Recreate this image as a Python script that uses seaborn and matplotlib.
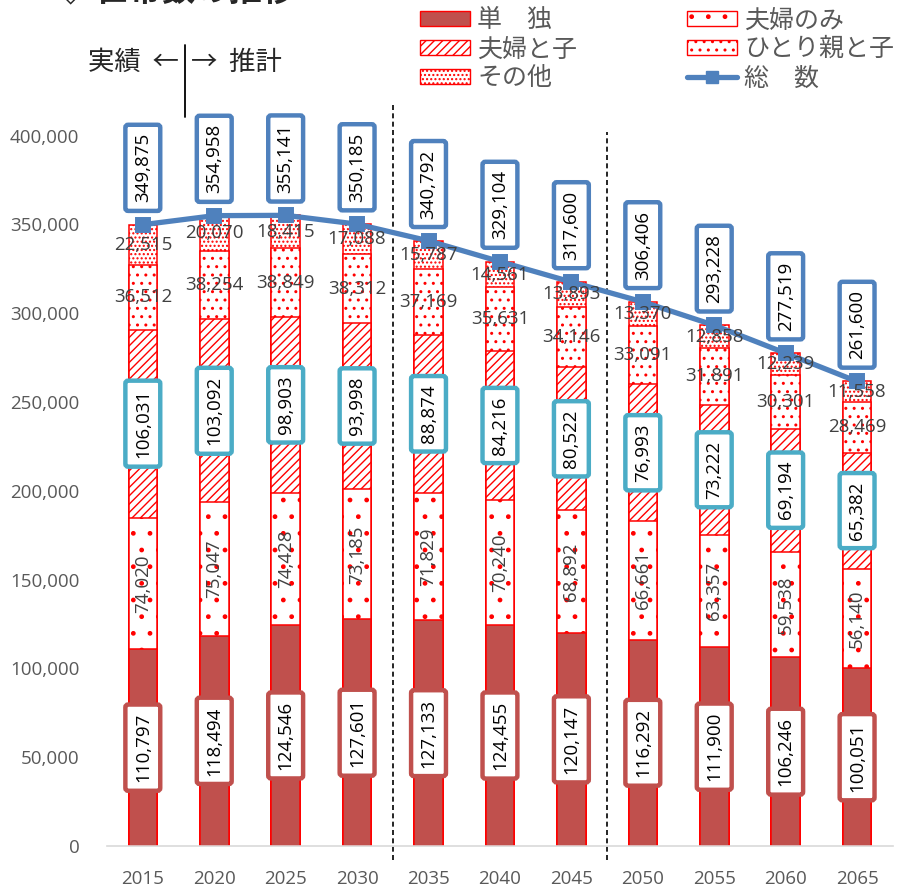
"""
世帯数の推移 — stacked bars by household type with total line.
"""

import pandas as pd
import matplotlib
matplotlib.use('Agg')
import matplotlib.pyplot as plt
from matplotlib.patches import Patch
from matplotlib.lines import Line2D
import seaborn as sns


YEARS = ['2015', '2020', '2025', '2030', '2035', '2040', '2045',
         '2050', '2055', '2060', '2065']
TANDOKU = [110797, 118494, 124546, 127601, 127133, 124455, 120147,
           116292, 111900, 106246, 100051]
FUFU_NOMI = [74020, 75047, 74428, 73185, 71829, 70240, 68892,
             66661, 63357, 59538, 56140]
FUFU_KO = [106031, 103092, 98903, 93998, 88874, 84216, 80522,
           76993, 73222, 69194, 65382]
HITORIOYA = [36512, 38254, 38849, 38312, 37169, 35631, 34146,
             33091, 31891, 30301, 28469]
SONOTA = [22515, 20070, 18415, 17088, 15787, 14561, 13893,
          13370, 12858, 12239, 11558]
TOTAL = [349875, 354958, 355141, 350185, 340792, 329104, 317600,
         306406, 293228, 277519, 261600]

LABELS = ['単　独', '夫婦のみ', '夫婦と子', 'ひとり親と子', 'その他']
TOTAL_LABEL = '総　数'
Y_TICKS = [0, 50000, 100000, 150000, 200000, 250000, 300000, 350000, 400000]

BAR_RED = '#C0504D'
EDGE_RED = '#FF0000'
BLUE = '#4F81BD'
TEAL = '#4BACC6'
TXT = '#404040'
NUM_FONT = ['Open Sans', 'Noto Sans CJK JP', 'DejaVu Sans']

# per segment: face, hatch, label rotation, label box edge (None = no box)
STYLES = [
    (BAR_RED, None, 90, BAR_RED),
    ('white', '.', 90, None),
    ('white', '////', 90, TEAL),
    ('white', '..', 0, None),
    ('white', '....', 0, None),
]
BOX = 'round,pad=0.45,rounding_size=0.15'


def main():
    sns.set_style('white')
    plt.rcParams['font.family'] = ['Noto Sans CJK JP', 'DejaVu Sans']
    plt.rcParams['hatch.color'] = EDGE_RED
    plt.rcParams['hatch.linewidth'] = 1.0

    df = pd.DataFrame({'year': YEARS, 'total': TOTAL})
    series = [TANDOKU, FUFU_NOMI, FUFU_KO, HITORIOYA, SONOTA]
    for name, vals in zip(LABELS, series):
        df[name] = vals
    cum = df[LABELS].cumsum(axis=1)

    fig = plt.figure(figsize=(9, 8.86), dpi=100)
    ax = fig.add_axes([0.119, 0.0451, 0.873, 0.902])

    # overlapping cumulative bars, tallest first so each lower layer covers it
    for k in range(len(LABELS) - 1, -1, -1):
        face, hatch, _, _ = STYLES[k]
        sns.barplot(x=df['year'], y=cum[LABELS[k]], ax=ax, color=face,
                    width=0.4, edgecolor=EDGE_RED, linewidth=1.1,
                    hatch=hatch, saturation=1, zorder=2)

    sns.pointplot(x=df['year'], y=df['total'], ax=ax, color=BLUE,
                  markers='s', markersize=8, linewidth=3.8, errorbar=None)
    for coll in ax.collections:
        coll.set_zorder(4)
    for ln in ax.lines:
        ln.set_zorder(4)

    # segment labels
    for k, name in enumerate(LABELS):
        _, _, rot, box = STYLES[k]
        lower = cum[name] - df[name]
        for i in range(len(YEARS)):
            mid = lower[i] + df[name][i] / 2
            kw = dict(ha='center', va='center', rotation=rot, fontsize=13.5,
                      family=NUM_FONT, zorder=6)
            if box:
                kw['bbox'] = dict(boxstyle=BOX, fc='white', ec=box, lw=3.2)
                kw['color'] = 'black'
            else:
                kw['color'] = TXT
            ax.text(i, mid, f'{df[name][i]:,}', **kw)

    # total labels above the line
    for i, v in enumerate(TOTAL):
        ax.annotate(f'{v:,}', (i, v), xytext=(0, 16), textcoords='offset points',
                    ha='center', va='bottom', rotation=90, fontsize=13.5,
                    family=NUM_FONT, color='black', zorder=6,
                    bbox=dict(boxstyle=BOX, fc='white', ec=BLUE, lw=3.2))

    ax.set_ylim(0, 450000)
    ax.set_xlim(-0.5, len(YEARS) - 0.5)
    ax.set_yticks(Y_TICKS)
    ax.set_yticklabels([f'{v:,}' for v in Y_TICKS], family=NUM_FONT)
    ax.set_xticks(range(len(YEARS)))
    ax.set_xticklabels(YEARS, family=NUM_FONT)
    ax.set_xlabel('')
    ax.set_ylabel('')
    ax.tick_params(axis='y', length=0, pad=20, labelsize=13.5, labelcolor='#595959')
    ax.tick_params(axis='x', length=0, pad=17, labelsize=13.5, labelcolor='#595959')
    for side in ['top', 'right', 'left']:
        ax.spines[side].set_visible(False)
    ax.spines['bottom'].set_color('#D9D9D9')
    ax.spines['bottom'].set_linewidth(1.2)

    # 実績/推計 boundaries
    ax.axvline(3.5, ymin=-0.0175, ymax=0.927, color='black', lw=1.2,
               ls=(0, (3, 2)), clip_on=False, zorder=1)
    ax.axvline(6.5, ymin=-0.0175, ymax=0.894, color='black', lw=1.2,
               ls=(0, (3, 2)), clip_on=False, zorder=1)

    fig.add_artist(Line2D([0.2056, 0.2056], [0.868, 0.949], color='black', lw=1.3))
    fig.text(0.199, 0.930, '実績  ←', ha='right', va='center', fontsize=19)
    fig.text(0.212, 0.930, '→  推計', ha='left', va='center', fontsize=19)
    fig.text(0.060, 0.998, '◇ 世帯数の推移', ha='left', va='baseline',
             fontsize=24, fontweight='bold')

    handles = [
        Patch(facecolor=BAR_RED, edgecolor=EDGE_RED, label=LABELS[0]),
        Patch(facecolor='white', edgecolor=EDGE_RED, hatch='////', label=LABELS[2]),
        Patch(facecolor='white', edgecolor=EDGE_RED, hatch='....', label=LABELS[4]),
        Patch(facecolor='white', edgecolor=EDGE_RED, hatch='.', label=LABELS[1]),
        Patch(facecolor='white', edgecolor=EDGE_RED, hatch='..', label=LABELS[3]),
        Line2D([], [], color=BLUE, lw=3.8, marker='s', markersize=8,
               label=TOTAL_LABEL),
    ]
    fig.legend(handles=handles, loc='upper left', bbox_to_anchor=(0.455, 1.003),
               ncol=2, frameon=False, fontsize=18, labelcolor='#595959',
               handlelength=2.0, handleheight=0.6, handletextpad=0.3,
               labelspacing=0.12, columnspacing=4.4, borderaxespad=0)

    fig.savefig('out.png', dpi=100)
    plt.close(fig)


if __name__ == '__main__':
    main()
